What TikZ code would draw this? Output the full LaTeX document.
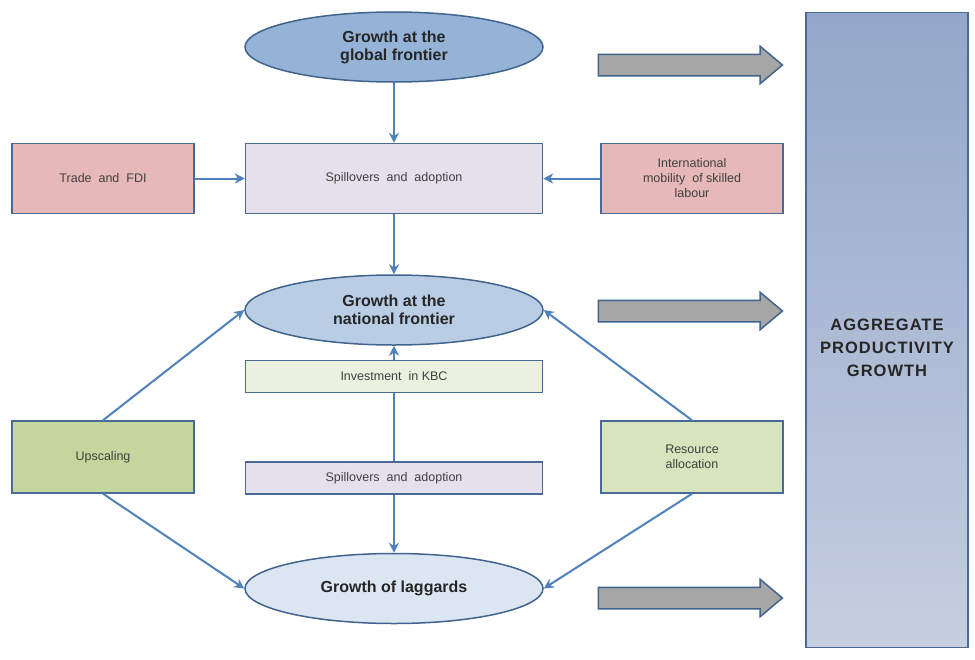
\documentclass[tikz,border=0pt]{standalone}
\usepackage{fontspec}
\setmainfont{Liberation Sans}
\usetikzlibrary{positioning,shapes.geometric,shapes.arrows,arrows.meta}

\definecolor{ovalline}{HTML}{41648F}
\definecolor{boxline}{HTML}{4A6A96}
\definecolor{flowblue}{HTML}{4F81BD}
\definecolor{globfill}{HTML}{95B3D7}
\definecolor{natfill}{HTML}{B9CDE5}
\definecolor{lagfill}{HTML}{DCE6F2}
\definecolor{rose}{HTML}{E6B9B8}
\definecolor{lilac}{HTML}{E6E0EC}
\definecolor{palegreen}{HTML}{EBF1DE}
\definecolor{olive}{HTML}{C3D69B}
\definecolor{sage}{HTML}{D7E4BD}
\definecolor{arrowgray}{HTML}{A6A6A6}
\definecolor{aggtop}{HTML}{93A7CA}
\definecolor{aggbottom}{HTML}{C6CEE0}

\tikzset{
  oval/.style={ellipse, draw=ovalline, line width=1.5pt, minimum width=298pt,
    minimum height=70pt, inner sep=0pt, align=center, text=black!85,
    font=\fontsize{16}{18}\selectfont\bfseries},
  factor/.style={rectangle, draw=boxline, line width=1.5pt, minimum width=182pt,
    minimum height=70pt, inner sep=2pt, align=center, text=black!75,
    font=\fontsize{12.5}{15}\selectfont},
  channel/.style={factor, minimum width=297pt},
  flow/.style={draw=flowblue, line width=2pt, -{Stealth[length=10pt,width=10pt]}},
  bigarrow/.style={single arrow, draw=ovalline, line width=1.5pt, fill=arrowgray,
    minimum height=184pt, inner xsep=0pt, inner ysep=10pt,
    single arrow head extend=8pt, single arrow tip angle=80}
}

\begin{document}
\begin{tikzpicture}[x=1pt, y=1pt]
  \useasboundingbox (0,0) rectangle (975,-659);

  %Define nodes
  \node[oval, fill=globfill] (glob) at (394,-47) {Growth at the\\global frontier};
  \node[channel, fill=lilac, below=60pt of glob] (spill) {Spillovers\ \ and\ \ adoption};
  \node[factor, fill=rose, left=50pt of spill] (trade) {Trade\ \ and\ \ FDI};
  \node[factor, fill=rose, right=57pt of spill] (intl) {International\\mobility\ \ of skilled\\labour};
  \node[oval, fill=natfill, below=60pt of spill] (nat) {Growth at the\\national frontier};
  \node[channel, fill=palegreen, minimum height=32pt, below=14pt of nat] (kbc) {Investment\ \ in KBC};
  \node[channel, fill=lilac, minimum height=32pt, below=68pt of kbc] (spill2) {Spillovers\ \ and\ \ adoption};
  \node[oval, fill=lagfill, below=58pt of spill2] (lag) {Growth of laggards};
  \node[factor, fill=olive, minimum height=72pt, below=206pt of trade] (upsc) {Upscaling};
  \node[factor, fill=sage, minimum height=72pt, below=206pt of intl] (realloc) {Resource\\allocation};

  \node[rectangle, draw=boxline, line width=1.5pt, top color=aggtop,
    bottom color=aggbottom, minimum width=162pt, minimum height=635pt,
    inner sep=0pt, align=center, text=black!85,
    font=\fontsize{16.5}{23}\selectfont\bfseries\addfontfeature{LetterSpace=6}] (agg) at (887,-330)
    {\\[24pt]AGGREGATE\\PRODUCTIVITY\\GROWTH};

  \node[bigarrow] (arr1) at (684,-65) {};
  \node[bigarrow] (arr2) at (684,-311) {};
  \node[bigarrow] (arr3) at (684,-598) {};

  % Connect the nodes
  \draw[flow] (glob) -- (spill);
  \draw[flow] (trade) -- (spill);
  \draw[flow] (intl) -- (spill);
  \draw[flow] (spill) -- (nat);
  \draw[draw=flowblue, line width=2pt] (spill2) -- (kbc);
  \draw[flow] (kbc) -- (nat);
  \draw[flow] (spill2) -- (lag);
  \draw[flow] (upsc.north) -- (nat.west);
  \draw[flow] (upsc.south) -- (lag.west);
  \draw[flow] (realloc.north) -- (nat.east);
  \draw[flow] (realloc.south) -- (lag.east);

\end{tikzpicture}
\end{document}
